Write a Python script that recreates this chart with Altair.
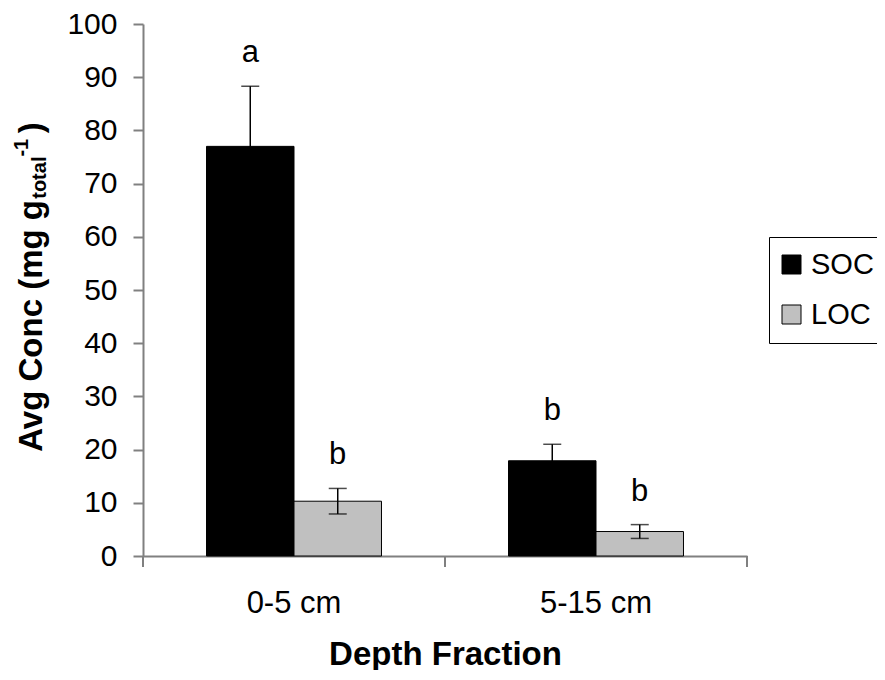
import altair as alt
import pandas as pd

# ---- data ----
depths = ["0-5 cm", "5-15 cm"]
fractions = ["SOC", "LOC"]
depth_col = ["0-5 cm", "0-5 cm", "5-15 cm", "5-15 cm"]
fraction_col = ["SOC", "LOC", "SOC", "LOC"]
means = [77.0, 10.3, 17.9, 4.6]
errors = [11.3, 2.4, 3.1, 1.3]
letters = ["a", "b", "b", "b"]
y_ticks = [0, 10, 20, 30, 40, 50, 60, 70, 80, 90, 100]
colors = ["#000000", "#c0c0c0"]

df = pd.DataFrame({
    "depth": depth_col,
    "fraction": fraction_col,
    "mean": means,
    "err": errors,
    "letter": letters,
})
df["low"] = df["mean"] - df["err"]
df["high"] = df["mean"] + df["err"]

W, H = 604, 532
FONT = "Liberation Sans"
AXIS = "#808080"
LBL = 31

x_axis = alt.Axis(title="Depth Fraction", labelAngle=0, ticks=False, tickSize=0,
                  domainColor=AXIS, domainWidth=2, labelFontSize=LBL, labelFont=FONT,
                  labelColor="black", labelPadding=32, titleFont=FONT, titleFontSize=33,
                  titleFontWeight="bold", titleColor="black", titleBaseline="alphabetic",
                  titleY=108)
x_scale = alt.Scale(paddingInner=0, paddingOuter=0)
xo = alt.XOffset("fraction:N", sort=fractions,
                 scale=alt.Scale(paddingInner=0, paddingOuter=0.726))
y_scale = alt.Scale(domain=[0, 100], nice=False)
y_axis = alt.Axis(title=None, values=y_ticks, grid=False, domainColor=AXIS, domainWidth=2,
                  tickColor=AXIS, tickWidth=2, tickSize=10, labelFontSize=30, labelFont=FONT,
                  labelColor="black", labelPadding=16)


def X():
    return alt.X("depth:N", sort=depths, scale=x_scale, axis=x_axis)


def Y(field):
    return alt.Y(field, type="quantitative", scale=y_scale, axis=y_axis)


base = alt.Chart(df)

bars = base.mark_bar(stroke="black", strokeWidth=1).encode(
    x=X(), xOffset=xo, y=Y("mean"),
    color=alt.Color("fraction:N", sort=fractions,
                    scale=alt.Scale(domain=fractions, range=colors),
                    legend=alt.Legend(title=None, orient="none", legendX=626, legendY=213,
                                      strokeColor="#000000", padding=13, rowPadding=20,
                                      labelFontSize=29, labelFont=FONT, labelColor="black",
                                      labelOffset=5, symbolOffset=-5, symbolType="square",
                                      symbolSize=361, symbolStrokeColor="black",
                                      symbolStrokeWidth=1)),
)

err_rule = base.mark_rule(color="black", strokeWidth=1.5).encode(
    x=X(), xOffset=xo, y=Y("low"), y2="high:Q")
cap_hi = base.mark_tick(color="black", thickness=1.5, size=18).encode(
    x=X(), xOffset=xo, y=Y("high"))
cap_lo = base.mark_tick(color="black", thickness=1.5, size=18).encode(
    x=X(), xOffset=xo, y=Y("low"))

labels = base.mark_text(fontSize=LBL, font=FONT, color="black", baseline="alphabetic",
                        dy=-24).encode(x=X(), xOffset=xo, y=Y("high"), text="letter:N")

tick_df = pd.DataFrame({"depth": depths})
ticks_start = alt.Chart(tick_df).mark_rule(color=AXIS, strokeWidth=2).encode(
    x=alt.X("depth:N", sort=depths, scale=x_scale, axis=x_axis, bandPosition=0),
    y=alt.value(H), y2=alt.value(H + 11))
ticks_end = alt.Chart(pd.DataFrame({"depth": depths[-1:]})).mark_rule(
    color=AXIS, strokeWidth=2).encode(
    x=alt.X("depth:N", sort=depths, scale=x_scale, axis=x_axis, bandPosition=1),
    y=alt.value(H), y2=alt.value(H + 11))

# composite y-axis title with subscript/superscript
one = pd.DataFrame({"k": [0]})
MAIN = 33
SMALL = 20
BX = -101
w_main = 7.667 * MAIN
w_sub = 2.111 * SMALL
w_sup = 1.167 * SMALL
w_par = 0.333 * MAIN
Y0 = 263 + (w_main + w_sub + w_sup + w_par) / 2


def ttl(text, size, xpos, ypos):
    return alt.Chart(one).mark_text(text=text, angle=270, align="left",
                                    baseline="alphabetic", fontSize=size,
                                    fontWeight="bold", font=FONT, color="black").encode(
        x=alt.value(xpos), y=alt.value(ypos))


t1 = ttl("Avg Conc (mg g", MAIN, BX, Y0)
t2 = ttl("total", SMALL, BX + 4, Y0 - w_main)
t3 = ttl(" -1", SMALL, BX - 14, Y0 - w_main - w_sub)
t4 = ttl(")", MAIN, BX, Y0 - w_main - w_sub - w_sup)

chart = alt.layer(bars, err_rule, cap_hi, cap_lo, labels, ticks_start, ticks_end,
                  t1, t2, t3, t4).properties(
    width=W, height=H,
    padding={"left": 135, "top": 16, "right": 130, "bottom": 114},
    autosize=alt.AutoSizeParams(type="none"),
    background="white",
).configure_view(stroke="transparent", strokeWidth=0)

chart.save("out.html", embed_options={"renderer": "svg", "actions": False})
